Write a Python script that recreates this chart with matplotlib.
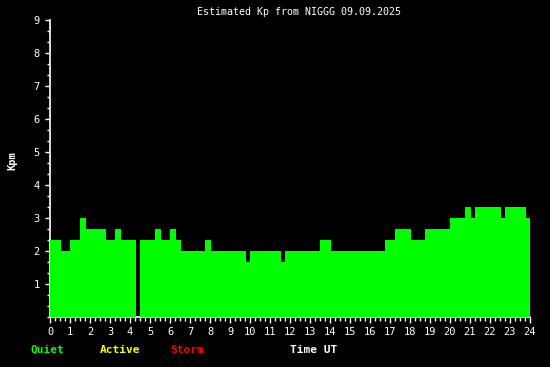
import matplotlib
matplotlib.use("Agg")
import matplotlib.pyplot as plt
from matplotlib.ticker import MultipleLocator

# step edges (hours UT) and Kp value of each step
edges = [0, 0.55, 1.0, 1.5, 1.8, 2.8, 3.25, 3.55, 4.3, 4.5, 5.25, 5.55, 6.0,
         6.3, 6.55, 7.75, 8.05, 9.8, 10.0, 11.55, 11.75, 13.5, 14.05, 16.75,
         17.25, 18.05, 18.75, 20.0, 20.75, 21.05, 21.25, 22.55, 22.75, 23.8, 24.0]
kp = [2.33, 2.0, 2.33, 3.0, 2.67, 2.33, 2.67, 2.33, 0, 2.33, 2.67, 2.33, 2.67,
      2.33, 2.0, 2.33, 2.0, 1.67, 2.0, 1.67, 2.0, 2.33, 2.0, 2.33, 2.67, 2.33,
      2.67, 3.0, 3.33, 3.0, 3.33, 3.0, 3.33, 3.0]
xticks = list(range(0, 25))
yticks = list(range(1, 10))

font = "DejaVu Sans Mono"
W, H = 550, 367

fig = plt.figure(figsize=(5.5, 3.67), dpi=100, facecolor="black")
ax = fig.add_axes([50 / W, 50 / H, 480 / W, 297 / H], facecolor="black")

ax.stairs(kp, edges, fill=True, color="#00ff00", zorder=3)

ax.set_xlim(0, 24)
ax.set_ylim(0, 9)
for s in ["top", "right"]:
    ax.spines[s].set_visible(False)
for s in ["left", "bottom"]:
    ax.spines[s].set_color("white")
    ax.spines[s].set_linewidth(1.2)
    ax.spines[s].set_zorder(2)

ax.set_xticks(xticks)
ax.set_yticks(yticks)
ax.xaxis.set_minor_locator(MultipleLocator(0.25))
ax.yaxis.set_minor_locator(MultipleLocator(1 / 3))
ax.tick_params(axis="x", which="major", length=4.3, width=1, color="white",
               labelcolor="white", labelsize=7.5, pad=3.2)
ax.tick_params(axis="x", which="minor", length=2.9, width=1, color="white")
ax.tick_params(axis="y", which="major", length=3.6, width=1, color="white",
               labelcolor="white", labelsize=7.5, pad=3.6)
ax.tick_params(axis="y", which="minor", length=2.2, width=1, color="white")
for lab in ax.get_xticklabels() + ax.get_yticklabels():
    lab.set_fontfamily(font)

fig.text(299 / W, 1 - 12 / H, "Estimated Kp from NIGGG 09.09.2025",
         color="white", fontsize=7.2, family=font, ha="center", va="center")
fig.text(12 / W, 1 - 161 / H, "Kpm", color="white", fontsize=7.5, family=font,
         fontweight="bold", rotation=90, ha="center", va="center")

bottom = [("Quiet", "#00ff00", 47), ("Active", "#ffff00", 120),
          ("Storm", "#ff0000", 187), ("Time UT", "white", 314)]
for txt, col, xc in bottom:
    fig.text(xc / W, 1 - 350 / H, txt, color=col, fontsize=8, family=font,
             fontweight="bold", ha="center", va="center")

fig.savefig("out.png", dpi=100, facecolor="black")
